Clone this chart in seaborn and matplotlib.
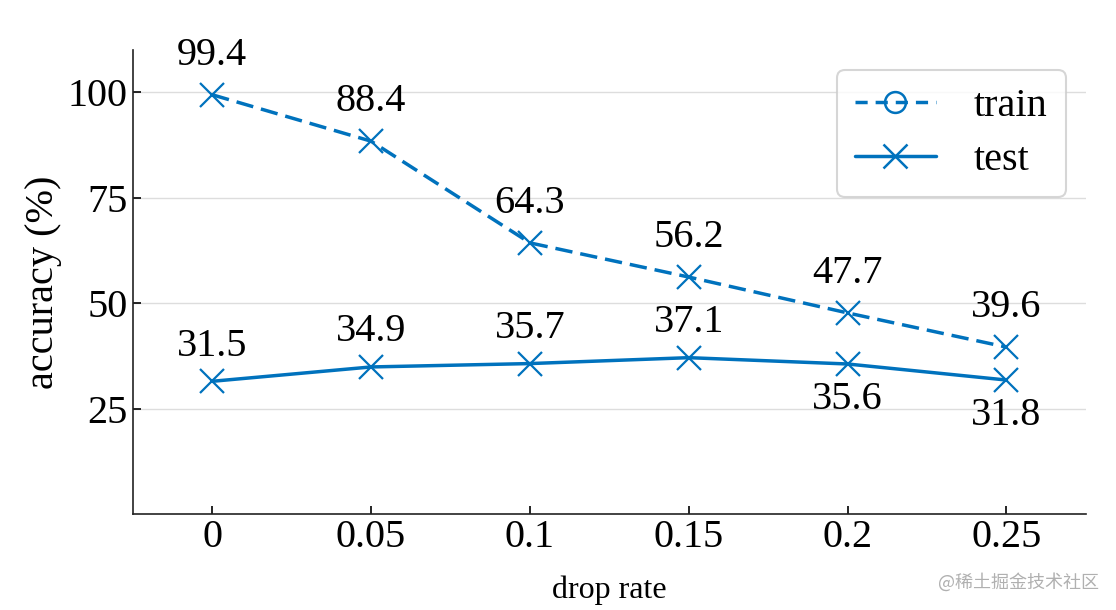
import pandas as pd
import numpy as np
import matplotlib
matplotlib.use("Agg")
import matplotlib.pyplot as plt
import seaborn as sns
from matplotlib.lines import Line2D

drop_rates = ["0", "0.05", "0.1", "0.15", "0.2", "0.25"]
train_acc = [99.4, 88.4, 64.3, 56.2, 47.7, 39.6]
test_acc = [31.5, 34.9, 35.7, 37.1, 35.6, 31.8]
test_label_below = [False, False, False, False, True, True]

df = pd.DataFrame({
    "drop rate": drop_rates * 2,
    "accuracy": train_acc + test_acc,
    "set": ["train"] * len(drop_rates) + ["test"] * len(drop_rates),
})

sns.set_style("ticks")
plt.rcParams["font.family"] = ["Liberation Serif", "DejaVu Serif"]
plt.rcParams["text.color"] = "black"
plt.rcParams["axes.labelcolor"] = "black"
plt.rcParams["xtick.color"] = "black"
plt.rcParams["ytick.color"] = "black"

BLUE = "#0072BD"
FS = 29

fig = plt.figure(figsize=(11.16, 6.1), dpi=100)
ax = fig.add_axes([0.119, 0.157, 0.854, 0.761])

sns.lineplot(data=df, x="drop rate", y="accuracy", hue="set", style="set",
             palette={"train": BLUE, "test": BLUE},
             dashes={"train": (5, 2.3), "test": ""},
             markers={"train": "x", "test": "x"},
             markersize=17, markeredgewidth=1.6, markeredgecolor=BLUE,
             linewidth=2.5, sort=False, ax=ax, legend=False)

xs = np.arange(len(drop_rates))
for i, v in enumerate(train_acc):
    ax.annotate(f"{v}", (xs[i], v), xytext=(0, 15), textcoords="offset points",
                ha="center", va="bottom", fontsize=FS)
for i, v in enumerate(test_acc):
    if test_label_below[i]:
        ax.annotate(f"{v}", (xs[i], v), xytext=(0, -12), textcoords="offset points",
                    ha="center", va="top", fontsize=FS)
    else:
        ax.annotate(f"{v}", (xs[i], v), xytext=(0, 12), textcoords="offset points",
                    ha="center", va="bottom", fontsize=FS)

ax.set_xlim(-0.5, len(drop_rates) - 0.5)
ax.set_ylim(0, 110)
ax.set_yticks([25, 50, 75, 100])
ax.yaxis.grid(True, color="#dddddd", linewidth=1)
ax.set_axisbelow(True)
ax.tick_params(direction="in", labelsize=FS, length=6, width=1.2)
ax.set_xlabel("drop rate", fontsize=23, labelpad=14)
ax.set_ylabel("accuracy (%)", fontsize=29)
sns.despine(ax=ax)
for s in ["left", "bottom"]:
    ax.spines[s].set_linewidth(1.2)
    ax.spines[s].set_color("#222222")

handles = [
    Line2D([], [], color=BLUE, linestyle=(0, (3.5, 2.3)), linewidth=2.5, marker="o",
           markersize=15, markerfacecolor="none", markeredgewidth=1.8),
    Line2D([], [], color=BLUE, linestyle="-", linewidth=2.5, marker="x",
           markersize=17, markeredgewidth=1.8),
]
leg = ax.legend(handles, ["train", "test"], loc="upper right", fontsize=FS,
                frameon=True, handlelength=2.0, borderpad=0.45, labelspacing=0.4,
                handletextpad=0.95, borderaxespad=0,
                bbox_to_anchor=(0.979, 0.957))
leg.get_frame().set_edgecolor("#cccccc")
leg.get_frame().set_linewidth(1.5)

fig.text(0.985, 0.03, "@稀土掘金技术社区", ha="right", va="bottom", fontsize=13,
         color="#b0b0b0", family=["Noto Sans CJK SC", "DejaVu Sans"])

fig.savefig("out.png", dpi=100)
